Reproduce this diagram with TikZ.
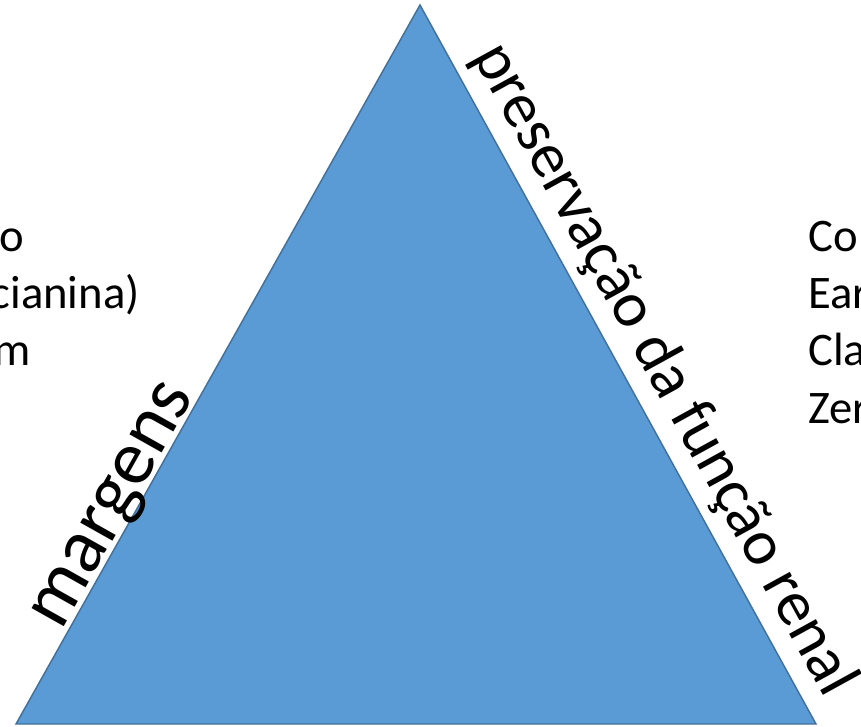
\documentclass[tikz,border=0pt]{standalone}
\usepackage{fontspec}
\setmainfont{Carlito}
\usetikzlibrary{positioning}
\definecolor{triblue}{HTML}{5B9BD5}
\definecolor{triedge}{HTML}{41719C}
\tikzset{
  sidetext/.style={inner sep=0pt, font=\fontsize{35}{42}\selectfont},
  edgetext/.style={inner sep=0pt, font=\fontsize{48}{58}\selectfont},
  bigedgetext/.style={inner sep=0pt, font=\fontsize{58}{70}\selectfont},
}
\begin{document}
\begin{tikzpicture}[x=0.75pt,y=-0.75pt]
  \useasboundingbox (0,0) rectangle (861,727);
  \clip (0,0) rectangle (861,727);
  % triangle
  \coordinate (apex) at (420,5);
  \coordinate (baseL) at (16,724);
  \coordinate (baseR) at (816,724);
  \draw[fill=triblue, draw=triedge, line width=1.1pt] (apex) -- (baseR) -- (baseL) -- cycle;
  % labels along the sides
  \node[bigedgetext, anchor=base east, rotate=60.67] (margens) at (194,396) {margens};
  \node[edgetext, anchor=base west, rotate=-61.2] (renal) at (472,56) {preservação da função renal};
  % cut-off text, left
  \node[sidetext, anchor=base east] (leftA) at (24,252) {o};
  \node[sidetext, anchor=base east] (leftB) at (140,309) {cianina)};
  \node[sidetext, anchor=base east] (leftC) at (31,366) {m};
  % cut-off text, right
  \node[sidetext, anchor=base west] (rightA) at (808,252) {Co};
  \node[sidetext, anchor=base west] (rightB) at (808,309) {Ear};
  \node[sidetext, anchor=base west] (rightC) at (808,366) {Cla};
  \node[sidetext, anchor=base west] (rightD) at (808,423) {Zer};
\end{tikzpicture}
\end{document}
